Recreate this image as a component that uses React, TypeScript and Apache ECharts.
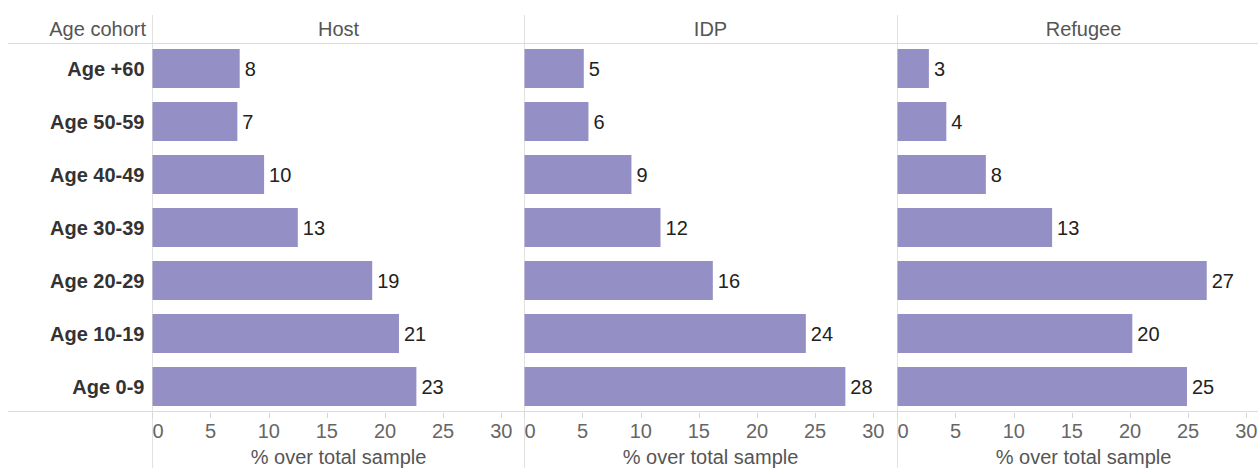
import React, { useEffect, useRef } from "react";
import * as echarts from "echarts";

const categories = ["Age +60", "Age 50-59", "Age 40-49", "Age 30-39", "Age 20-29", "Age 10-19", "Age 0-9"];
const hostValues = [7.5, 7.3, 9.6, 12.5, 18.9, 21.2, 22.7];
const idpValues = [5.1, 5.5, 9.2, 11.7, 16.2, 24.2, 27.6];
const refugeeValues = [2.7, 4.2, 7.6, 13.3, 26.6, 20.2, 24.9];
const panelTitles = ["Host", "IDP", "Refugee"];
const tickValues = [0, 5, 10, 15, 20, 25, 30];
const rowHeader = "Age cohort";
const axisTitle = "% over total sample";

const FONT = '"Liberation Sans", Arial, sans-serif';
const BAR_COLOR = "#948fc4";
const LINE_COLOR = "#e2e2e2";

export default function App() {
  const ref = useRef<HTMLDivElement>(null);

  useEffect(() => {
    document.body.style.margin = "0";
    if (!ref.current) return;
    const chart = echarts.init(ref.current, undefined, { renderer: "svg" });

    const lefts = [152.5, 524.5, 897.5];
    const panelW = 372;
    const top = 42;
    const height = 371;
    const seriesData = [hostValues, idpValues, refugeeValues];

    const grid = lefts.map((l) => ({
      left: l,
      top,
      width: panelW,
      height,
      containLabel: false,
      outerBoundsMode: "none",
    }));

    const xAxis = lefts.map((_, i) => ({
      gridIndex: i,
      type: "value",
      min: 0,
      max: 32,
      axisLine: { show: false },
      axisTick: {
        show: true,
        customValues: tickValues,
        length: 5,
        lineStyle: { color: "#d6d6d6" },
      },
      axisLabel: {
        customValues: tickValues,
        fontSize: 20,
        fontFamily: FONT,
        color: "#666",
        margin: 8,
        alignMinLabel: "left",
      },
      splitLine: { show: false },
      name: axisTitle,
      nameLocation: "middle",
      nameGap: 34,
      nameTextStyle: { fontSize: 20, fontFamily: FONT, color: "#555" },
    }));

    const yAxis = lefts.map((_, i) => ({
      gridIndex: i,
      type: "category",
      inverse: true,
      data: categories,
      axisLine: { show: false },
      axisTick: { show: false },
      axisLabel: {
        show: i === 0,
        fontSize: 20,
        fontWeight: "bold",
        fontFamily: FONT,
        color: "#333",
        margin: 8,
      },
    }));

    const series = seriesData.map((d, i) => ({
      type: "bar",
      xAxisIndex: i,
      yAxisIndex: i,
      data: d,
      barWidth: 39,
      itemStyle: { color: BAR_COLOR },
      label: {
        show: true,
        position: "right",
        distance: 5,
        fontSize: 20,
        fontFamily: FONT,
        color: "#222",
        formatter: (p: any) => String(Math.round(p.value)),
      },
    }));

    const graphic: any[] = [];
    lefts.forEach((l) => {
      graphic.push({
        type: "line",
        shape: { x1: l, y1: 15, x2: l, y2: 468 },
        style: { stroke: LINE_COLOR, lineWidth: 1 },
        z: 0,
      });
    });
    [43.5, 411.5].forEach((y) => {
      graphic.push({
        type: "line",
        shape: { x1: 8, y1: y, x2: 1258, y2: y },
        style: { stroke: "#dcdcdc", lineWidth: 1 },
        z: 0,
      });
    });
    graphic.push({
      type: "text",
      x: 146,
      y: 29,
      style: {
        text: rowHeader,
        fill: "#555",
        fontSize: 20,
        fontFamily: FONT,
        align: "right",
        textAlign: "right",
        verticalAlign: "middle",
        textVerticalAlign: "middle",
      },
    });
    panelTitles.forEach((t, i) => {
      graphic.push({
        type: "text",
        x: lefts[i] + panelW / 2,
        y: 29,
        style: {
          text: t,
          fill: "#555",
          fontSize: 20,
          fontFamily: FONT,
          align: "center",
          textAlign: "center",
          verticalAlign: "middle",
          textVerticalAlign: "middle",
        },
      });
    });

    chart.setOption({
      animation: false,
      backgroundColor: "#fff",
      textStyle: { fontFamily: FONT },
      grid,
      xAxis,
      yAxis,
      series,
      graphic,
    } as any);

    return () => chart.dispose();
  }, []);

  return <div ref={ref} style={{ width: 1258, height: 468 }} />;
}
